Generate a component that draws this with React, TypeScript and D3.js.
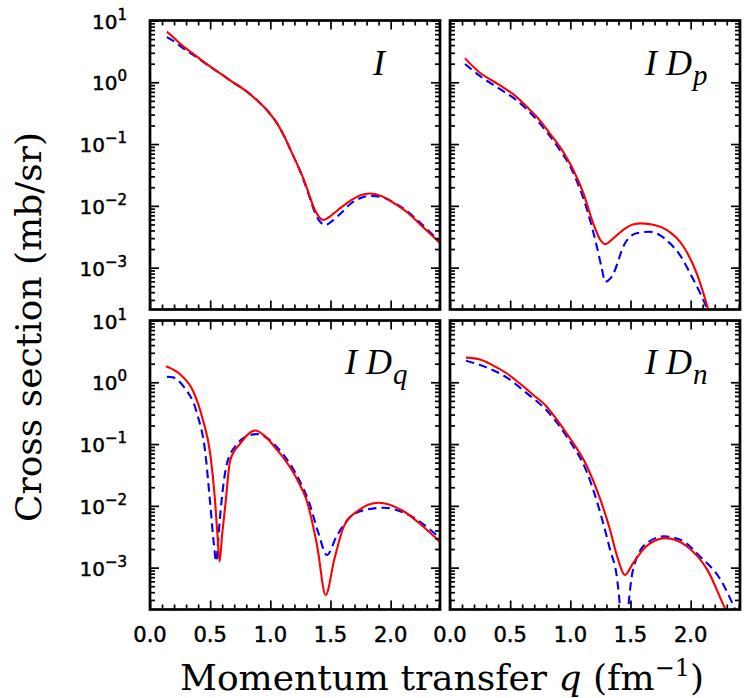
import React, { useEffect, useRef } from 'react'
import * as d3 from 'd3'

// cross sections (mb/sr), q in fm^-1
const I_RED_Q = [0.14, 0.2, 0.28, 0.38, 0.47, 0.58, 0.69, 0.8, 0.89, 0.98, 1.06, 1.12, 1.17, 1.23, 1.28, 1.32, 1.36, 1.4, 1.44, 1.49, 1.56, 1.67, 1.75, 1.82, 1.92, 2.03, 2.14, 2.25, 2.33, 2.41]
const I_RED = [6.6, 5.2, 3.77, 2.7, 1.98, 1.41, 1.0, 0.72, 0.51, 0.34, 0.21, 0.129, 0.079, 0.044, 0.026, 0.0158, 0.0095, 0.0068, 0.0059, 0.0066, 0.0085, 0.0123, 0.0148, 0.0158, 0.0145, 0.011, 0.0078, 0.0049, 0.0035, 0.0025]
const I_BLUE_Q = [0.14, 0.2, 0.28, 0.38, 0.47, 0.58, 0.69, 0.8, 0.89, 0.98, 1.06, 1.12, 1.17, 1.23, 1.28, 1.32, 1.36, 1.4, 1.46, 1.51, 1.58, 1.67, 1.75, 1.83, 1.92, 2.03, 2.14, 2.25, 2.33, 2.41]
const I_BLUE = [5.4, 4.6, 3.5, 2.6, 1.95, 1.41, 1.0, 0.72, 0.51, 0.34, 0.21, 0.128, 0.078, 0.044, 0.025, 0.015, 0.0088, 0.006, 0.0049, 0.0056, 0.0074, 0.0109, 0.0134, 0.0145, 0.014, 0.0112, 0.0081, 0.0052, 0.0037, 0.0026]

const DP_RED_Q = [0.125, 0.244, 0.4, 0.555, 0.65, 0.748, 0.83, 0.915, 0.97, 1.025, 1.11, 1.19, 1.25, 1.29, 1.35, 1.44, 1.52, 1.59, 1.7, 1.8, 1.94, 2.05, 2.14, 2.17]
const DP_RED = [2.44, 1.45, 0.93, 0.575, 0.38, 0.24, 0.148, 0.089, 0.06, 0.038, 0.0158, 0.0052, 0.0028, 0.0024, 0.0029, 0.0041, 0.005, 0.0052, 0.0049, 0.0041, 0.0022, 8.1e-4, 2.3e-4, 1.4e-4]
const DP_BLUE_Q = [0.125, 0.244, 0.4, 0.555, 0.65, 0.748, 0.83, 0.915, 1.0, 1.07, 1.14, 1.22, 1.26, 1.29, 1.33, 1.36, 1.4, 1.44, 1.55, 1.66, 1.75, 1.83, 1.92, 1.995, 2.07, 2.13, 2.17]
const DP_BLUE = [1.98, 1.28, 0.81, 0.507, 0.347, 0.214, 0.135, 0.079, 0.0427, 0.0209, 0.0085, 0.0022, 0.001, 5.9e-4, 6.6e-4, 8.1e-4, 0.00132, 0.0022, 0.0036, 0.0038, 0.0033, 0.00245, 0.0015, 8.1e-4, 4.2e-4, 2.3e-4, 1.4e-4]

const DQ_RED_Q = [0.133, 0.25, 0.36, 0.44, 0.5, 0.54, 0.56, 0.578, 0.6, 0.625, 0.667, 0.75, 0.875, 0.96, 1.05, 1.12, 1.19, 1.25, 1.3, 1.39, 1.46, 1.53, 1.61, 1.72, 1.9, 2.11, 2.25, 2.41]
const DQ_RED = [1.82, 1.35, 0.71, 0.245, 0.071, 0.0126, 0.0035, 0.00126, 0.0035, 0.0098, 0.055, 0.102, 0.166, 0.132, 0.083, 0.056, 0.035, 0.021, 0.0126, 0.0022, 3.6e-4, 0.00132, 0.0046, 0.0081, 0.0112, 0.0081, 0.005, 0.0026]
const DQ_BLUE_Q = [0.14, 0.19, 0.28, 0.39, 0.46, 0.5, 0.53, 0.55, 0.565, 0.58, 0.64, 0.72, 0.8, 0.89, 0.97, 1.05, 1.16, 1.25, 1.32, 1.4, 1.47, 1.55, 1.67, 1.8, 1.94, 2.17, 2.41]
const DQ_BLUE = [1.23, 1.2, 0.85, 0.316, 0.071, 0.011, 0.0025, 0.00126, 0.0025, 0.0059, 0.049, 0.098, 0.132, 0.145, 0.126, 0.091, 0.049, 0.024, 0.0117, 0.0036, 0.0016, 0.0032, 0.0068, 0.0087, 0.0093, 0.0068, 0.003]

const DN_RED_Q = [0.133, 0.25, 0.36, 0.47, 0.58, 0.69, 0.8, 0.88, 0.97, 1.14, 1.25, 1.33, 1.39, 1.455, 1.52, 1.63, 1.79, 1.97, 2.14, 2.29, 2.32]
const DN_RED = [2.51, 2.34, 1.86, 1.4, 0.955, 0.63, 0.41, 0.26, 0.148, 0.043, 0.0126, 0.0041, 0.0015, 7.6e-4, 0.00117, 0.0022, 0.003, 0.0022, 9.1e-4, 2.1e-4, 1.6e-4]
const DN_BLUE_Q = [0.133, 0.25, 0.47, 0.64, 0.8, 0.97, 1.14, 1.25, 1.33, 1.39, 1.42, 1.445, 1.47, 1.52, 1.63, 1.78, 1.92, 2.08, 2.25, 2.37, 2.41]
const DN_BLUE = [2.24, 1.9, 1.2, 0.66, 0.355, 0.132, 0.034, 0.0076, 0.00195, 6.3e-4, 1.6e-4, 3.2e-5, 1.26e-4, 9.1e-4, 0.00245, 0.0032, 0.0028, 0.0015, 6.3e-4, 2.1e-4, 1.4e-4]

const X_MAJOR = [0, 0.5, 1.0, 1.5, 2.0]
const X_LABELS = ['0.0', '0.5', '1.0', '1.5', '2.0']
const Y_DECADES = [1e-3, 1e-2, 1e-1, 1, 10]
const Y_EXP = ['\u22123', '\u22122', '\u22121', '0', '1']

const PANELS = [
  { col: 0, row: 0, sub: null, redQ: I_RED_Q, red: I_RED, blueQ: I_BLUE_Q, blue: I_BLUE },
  { col: 1, row: 0, sub: 'p', redQ: DP_RED_Q, red: DP_RED, blueQ: DP_BLUE_Q, blue: DP_BLUE },
  { col: 0, row: 1, sub: 'q', redQ: DQ_RED_Q, red: DQ_RED, blueQ: DQ_BLUE_Q, blue: DQ_BLUE },
  { col: 1, row: 1, sub: 'n', redQ: DN_RED_Q, red: DN_RED, blueQ: DN_BLUE_Q, blue: DN_BLUE },
]

const W = 747
const H = 698
const PW = 290
const PH = 289
const LEFTS = [150, 450]
const TOPS = [20.5, 320.5]
const X_MAX = 2.41
const Y_MIN = 2.1e-4
const Y_MAX = 10

const TICK_FONT = '"DejaVu Sans", sans-serif'
const TITLE_FONT = '"DejaVu Serif", serif'
const ITALIC_FONT = '"Liberation Serif", serif'

export default function App() {
  const ref = useRef(null)

  useEffect(() => {
    const svg = d3.select(ref.current)
    svg.selectAll('*').remove()

    const minorX = d3.range(0.1, X_MAX, 0.1).filter(v => Math.abs(v * 2 - Math.round(v * 2)) > 1e-6)
    const minorY: number[] = []
    ;[1e-4, 1e-3, 1e-2, 1e-1, 1].forEach(d => {
      for (let k = 2; k <= 9; k++) {
        const v = d * k
        if (v > Y_MIN && v < Y_MAX) minorY.push(v)
      }
    })

    PANELS.forEach((p, i) => {
      const x0 = LEFTS[p.col]
      const y0 = TOPS[p.row]
      const x = d3.scaleLinear().domain([0, X_MAX]).range([x0, x0 + PW])
      const y = d3.scaleLog().domain([Y_MIN, Y_MAX]).range([y0 + PH, y0])

      const clipId = 'clip' + i
      svg.append('clipPath').attr('id', clipId)
        .append('rect').attr('x', x0).attr('y', y0).attr('width', PW).attr('height', PH)

      const g = svg.append('g').attr('clip-path', `url(#${clipId})`)
      const lineFor = (qs: number[]) => d3.line<number>()
        .x((d, k) => x(qs[k]))
        .y(d => y(d))
        .curve(d3.curveMonotoneX)

      g.append('path')
        .attr('d', lineFor(p.blueQ)(p.blue))
        .attr('fill', 'none')
        .attr('stroke', '#0000ff')
        .attr('stroke-width', 2.1)
        .attr('stroke-dasharray', '8.5,5')

      g.append('path')
        .attr('d', lineFor(p.redQ)(p.red))
        .attr('fill', 'none')
        .attr('stroke', '#ff0000')
        .attr('stroke-width', 2.1)

      // ticks, all pointing inward
      const tickStyle = (sel: any) => {
        sel.select('.domain').remove()
        sel.selectAll('line').attr('stroke', '#000').attr('stroke-width', 1.7)
        sel.selectAll('text').remove()
      }
      const axes = [
        [d3.axisBottom(x), `translate(0,${y0 + PH})`, X_MAJOR, minorX],
        [d3.axisTop(x), `translate(0,${y0})`, X_MAJOR, minorX],
        [d3.axisLeft(y), `translate(${x0},0)`, Y_DECADES, minorY],
        [d3.axisRight(y), `translate(${x0 + PW},0)`, Y_DECADES, minorY],
      ] as any[]
      axes.forEach(([ax, tr, major, minor]) => {
        svg.append('g').attr('transform', tr)
          .call(ax.tickValues(major).tickSize(-9).tickFormat(() => ''))
          .call(tickStyle)
        svg.append('g').attr('transform', tr)
          .call(ax.tickValues(minor).tickSize(-5).tickFormat(() => ''))
          .call(tickStyle)
      })

      svg.append('rect')
        .attr('x', x0).attr('y', y0).attr('width', PW).attr('height', PH)
        .attr('fill', 'none').attr('stroke', '#000').attr('stroke-width', 2.7)

      if (p.col === 0) {
        Y_DECADES.forEach((d, k) => {
          const t = svg.append('text')
            .attr('x', x0 - 23).attr('y', y(d) + 8)
            .attr('text-anchor', 'end')
            .attr('font-family', TICK_FONT).attr('font-size', 20)
            .attr('stroke', '#000').attr('stroke-width', 0.5)
            .text('10')
          t.append('tspan').attr('dy', -9).attr('font-size', 15).text(Y_EXP[k])
        })
      }
      if (p.row === 1) {
        X_MAJOR.forEach((v, k) => {
          svg.append('text')
            .attr('x', x(v)).attr('y', y0 + PH + 32)
            .attr('text-anchor', 'middle')
            .attr('font-family', TICK_FONT).attr('font-size', 21)
            .attr('stroke', '#000').attr('stroke-width', 0.5)
            .text(X_LABELS[k])
        })
      }

      const lab = svg.append('text')
        .attr('x', p.sub ? x0 + 195 : x0 + 223)
        .attr('y', y0 + (p.row === 0 ? 54 : 53))
        .attr('font-family', ITALIC_FONT).attr('font-style', 'italic').attr('font-size', 36)
        .text(p.sub ? 'I D' : 'I')
      if (p.sub) lab.append('tspan').attr('dx', 1).attr('dy', 10).attr('font-size', 29).text(p.sub)
    })

    const xt = svg.append('text')
      .attr('x', 442).attr('y', 690)
      .attr('text-anchor', 'middle')
      .attr('font-family', TITLE_FONT).attr('font-size', 36)
    xt.append('tspan').text('Momentum transfer ')
    xt.append('tspan').attr('font-style', 'italic').text('q')
    xt.append('tspan').text(' (fm')
    xt.append('tspan').attr('dy', -14).attr('font-size', 24).text('\u22121')
    xt.append('tspan').attr('dy', 14).text(')')

    svg.append('text')
      .attr('transform', 'translate(41,327) rotate(-90)')
      .attr('text-anchor', 'middle')
      .attr('font-family', TITLE_FONT).attr('font-size', 36)
      .text('Cross section (mb/sr)')
  }, [])

  return (
    <svg ref={ref} width={W} height={H} style={{ position: 'absolute', left: 0, top: 0, background: '#fff' }} />
  )
}
